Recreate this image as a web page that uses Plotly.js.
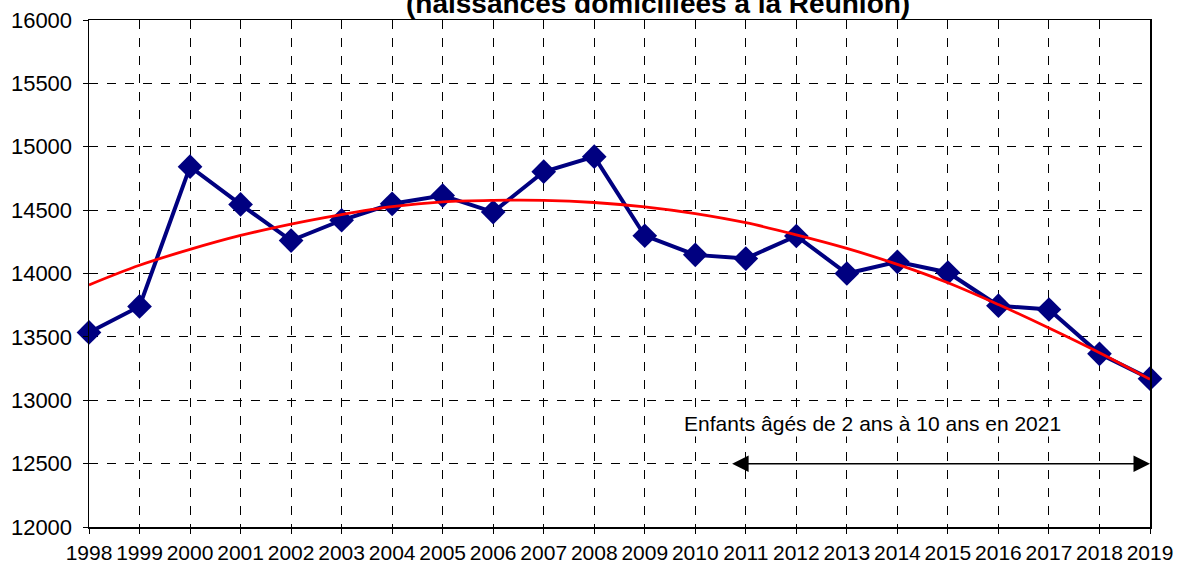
<!DOCTYPE html>
<html>
<head>
<meta charset="utf-8">
<script src="https://cdn.plot.ly/plotly-3.0.1.min.js"></script>
<style>html,body{margin:0;padding:0;background:#fff;}#chart{width:1177px;height:563px;}</style>
</head>
<body>
<div id="chart"></div>
<script>
const years = [1998,1999,2000,2001,2002,2003,2004,2005,2006,2007,2008,2009,2010,2011,2012,2013,2014,2015,2016,2017,2018,2019];
const births = [13535,13740,14843,14545,14260,14420,14550,14615,14485,14803,14922,14298,14147,14118,14296,14000,14092,14008,13746,13716,13366,13170];
const trend = [13910,14065,14190,14300,14390,14465,14527,14565,14577,14577,14560,14526,14473,14401,14305,14198,14072,13927,13755,13570,13375,13165];
const yTicks = [12000,12500,13000,13500,14000,14500,15000,15500,16000];
const yTickText = ["12000","12500","13000","13500","14000","14500","15000","15500","16000"];
const titleText = "(naissances domiciliées à la Réunion)";
const noteText = "Enfants âgés de 2 ans à 10 ans en 2021";
const arrowFrom = 2010.7, arrowTo = 2019, arrowLevel = 12500;
const noteX = 2013.5, noteY = 12820;

const font = "Liberation Sans, Arial, sans-serif";

const traces = [
  {x: years, y: births, type: 'scatter', mode: 'lines+markers',
   line: {color: '#000080', width: 4},
   marker: {symbol: 'diamond', size: 19, color: '#000080'},
   cliponaxis: false, hoverinfo: 'skip'},
  {x: years, y: trend, type: 'scatter', mode: 'lines',
   line: {color: '#ff0000', width: 2.8, shape: 'spline'},
   cliponaxis: false, hoverinfo: 'skip'}
];

const layout = {
  width: 1177, height: 563,
  margin: {l: 89, r: 27, t: 20, b: 36},
  paper_bgcolor: '#fff', plot_bgcolor: '#fff',
  showlegend: false,
  font: {family: font, color: '#000'},
  xaxis: {
    range: [1998, 2019], tickvals: years, ticktext: years.map(String),
    tickangle: 0,
    showline: true, linecolor: '#000', linewidth: 1.5, mirror: true,
    showgrid: true, gridcolor: '#000', gridwidth: 1, griddash: 'dash',
    ticks: 'outside', ticklen: 5, tickcolor: '#000',
    tickfont: {family: font, size: 21, color: '#000'},
    ticklabelstandoff: 1,
    zeroline: false, fixedrange: true
  },
  yaxis: {
    range: [12000, 16000], tickvals: yTicks, ticktext: yTickText,
    showline: true, linecolor: '#000', linewidth: 1.5, mirror: true,
    showgrid: true, gridcolor: '#000', gridwidth: 1, griddash: 'dash',
    ticks: 'outside', ticklen: 5, tickcolor: '#000',
    tickfont: {family: font, size: 22, color: '#000'},
    ticklabelstandoff: 6,
    zeroline: false, fixedrange: true
  },
  annotations: [
    {text: '<b>' + titleText + '</b>', xref: 'paper', yref: 'paper', x: 0.536, y: 0.999,
     xanchor: 'center', yanchor: 'bottom', showarrow: false,
     font: {family: font, size: 28, color: '#000'}},
    {text: noteText, xref: 'x', yref: 'y', x: noteX, y: noteY,
     xanchor: 'center', yanchor: 'middle', showarrow: false, bgcolor: '#fff',
     font: {family: font, size: 21, color: '#000'}},
    {text: '', xref: 'x', yref: 'y', x: arrowTo, y: arrowLevel,
     axref: 'x', ayref: 'y', ax: arrowFrom, ay: arrowLevel,
     showarrow: true, arrowhead: 2, arrowside: 'end+start', arrowsize: 2.2,
     arrowwidth: 1.5, arrowcolor: '#000', standoff: 0, startstandoff: 0}
  ]
};

Plotly.newPlot('chart', traces, layout, {staticPlot: true, displayModeBar: false});
</script>
</body>
</html>
